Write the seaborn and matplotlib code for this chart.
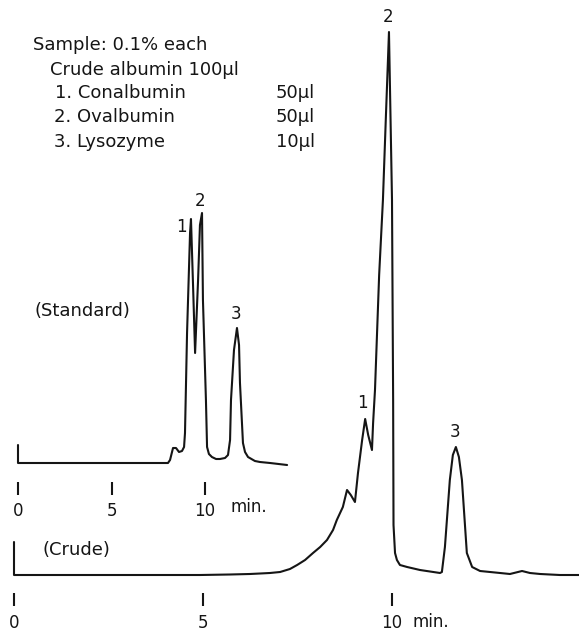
import numpy as np
import pandas as pd
import matplotlib
matplotlib.use("Agg")
import matplotlib.pyplot as plt
import seaborn as sns

# Standard mixture trace: time (min) vs detector response (relative units)
std_time = [0.0, 0.0, 8.02, 8.13, 8.29, 8.45, 8.61, 8.77, 8.88, 8.93, 9.04, 9.20,
            9.25, 9.36, 9.47, 9.63, 9.73, 9.84, 9.89, 10.05, 10.11, 10.21, 10.37,
            10.59, 10.80, 11.07, 11.23, 11.34, 11.39, 11.55, 11.71, 11.82, 11.87,
            12.03, 12.14, 12.30, 12.67, 12.94, 13.48, 14.39]
std_signal = [18, 0, 0, 3, 15, 15, 11, 12, 16, 30, 130, 230,
              244, 178, 110, 183, 238, 250, 163, 63, 16, 9, 6,
              4, 4, 5, 8, 23, 63, 113, 135, 118, 80,
              20, 11, 6, 2, 1, 0, -2]

# Crude albumin trace
crude_time = [0.0, 0.0, 4.92, 5.71, 6.24, 6.51, 6.77, 7.04, 7.30, 7.49, 7.70,
              7.91, 8.10, 8.28, 8.44, 8.54, 8.70,
              8.81, 8.91, 9.02, 9.10, 9.21, 9.29, 9.37, 9.47, 9.50, 9.55, 9.66,
              9.76, 9.84, 9.92, 9.95, 10.00, 10.03, 10.04, 10.08, 10.13, 10.21,
              10.40, 10.74, 11.27, 11.32, 11.40, 11.53, 11.61, 11.69, 11.77,
              11.85, 11.98, 12.12, 12.33, 12.86, 13.12, 13.44, 13.65, 13.92,
              14.44, 14.95]
crude_signal = [33, 0, 0, 0.5, 1, 1.5, 2, 3, 6, 10, 15,
                22, 28, 35, 45, 55, 68,
                85, 80, 73, 102, 135, 156, 140, 125, 152, 185, 300,
                375, 460, 543, 480, 375, 175, 50, 22, 15, 10,
                8, 5, 2, 3, 28, 95, 120, 128, 118,
                95, 22, 8, 4, 2, 1, 4, 2, 1,
                0, 0]

# Peak apexes used for the numbered labels
std_peak_time = [9.25, 9.84, 11.71]
std_peak_signal = [244, 250, 135]
crude_peak_time = [9.29, 9.92, 11.69]
crude_peak_signal = [156, 543, 128]
peak_names = ["1", "2", "3"]

tick_minutes = [0, 5, 10]
tick_labels = ["0", "5", "10"]

sample_lines = ["Sample: 0.1% each", "Crude albumin 100µl",
                "1. Conalbumin", "2. Ovalbumin", "3. Lysozyme"]
sample_volumes = ["50µl", "50µl", "10µl"]

sns.set_style("white")
plt.rcParams["font.family"] = ["DejaVu Sans"]

W, H = 579, 631
fig = plt.figure(figsize=(W / 100, H / 100), dpi=100)

ink = "#151515"
lw = 1.5

std_df = pd.DataFrame({"time": std_time, "signal": std_signal})
crude_df = pd.DataFrame({"time": crude_time, "signal": crude_signal})

# Each chromatogram gets its own full-figure axes with its own time scale
ax_std = fig.add_axes([0, 0, 1, 1])
ax_crude = fig.add_axes([0, 0, 1, 1])
for ax in (ax_std, ax_crude):
    ax.patch.set_alpha(0)
    for side in ("top", "left", "right"):
        ax.spines[side].set_visible(False)
    ax.spines["bottom"].set_color("none")
    ax.set_yticks([])

sns.lineplot(data=std_df, x="time", y="signal", ax=ax_std, sort=False,
             estimator=None, color=ink, linewidth=lw,
             solid_joinstyle="round", solid_capstyle="round")
sns.lineplot(data=crude_df, x="time", y="signal", ax=ax_crude, sort=False,
             estimator=None, color=ink, linewidth=lw,
             solid_joinstyle="round", solid_capstyle="round")

std_px_per_min = 18.7
crude_px_per_min = 37.8
ax_std.set_xlim(-18 / std_px_per_min, (W - 18) / std_px_per_min)
ax_std.set_ylim(-(H - 463), 463)
ax_crude.set_xlim(-14 / crude_px_per_min, (W - 14) / crude_px_per_min)
ax_crude.set_ylim(-(H - 575), 575)

for ax, base, pad in ((ax_std, -19, 5.0), (ax_crude, -18, 5.8)):
    ax.spines["bottom"].set_position(("data", base))
    ax.set_xticks(tick_minutes)
    ax.set_xticklabels(tick_labels)
    ax.tick_params(axis="x", direction="out", length=9.4, width=1.5,
                   color=ink, pad=pad, labelsize=12, labelcolor=ink,
                   bottom=True)
    ax.set_xlabel("")
    ax.set_ylabel("")

def px_text(x, y, s, **kw):
    fig.text(x / W, 1 - y / H, s, color=ink, va="center", **kw)

px_text(230, 507, "min.", fontsize=12)
px_text(413, 622, "min.", fontsize=12)
px_text(35, 311, "(Standard)", fontsize=13)
px_text(43, 550, "(Crude)", fontsize=13)

line_pos = [(33, 45), (50, 70), (55, 93), (54, 117), (54, 142)]
for (x, y), s in zip(line_pos, sample_lines):
    px_text(x, y, s, fontsize=13)
for y, s in zip([93, 117, 142], sample_volumes):
    px_text(315, y, s, fontsize=13, ha="right")

std_offsets = [(-10, -8), (-1.5, 12), (-0.5, 14)]
crude_offsets = [(-3, 16), (-1, 15), (-1, 15)]
for ax, pts, sig, offs in ((ax_std, std_peak_time, std_peak_signal, std_offsets),
                           (ax_crude, crude_peak_time, crude_peak_signal, crude_offsets)):
    for t, s, name, off in zip(pts, sig, peak_names, offs):
        ax.annotate(name, (t, s), xytext=off, textcoords="offset pixels",
                    ha="center", va="center", fontsize=12, color=ink)

fig.savefig("out.png", dpi=100)
